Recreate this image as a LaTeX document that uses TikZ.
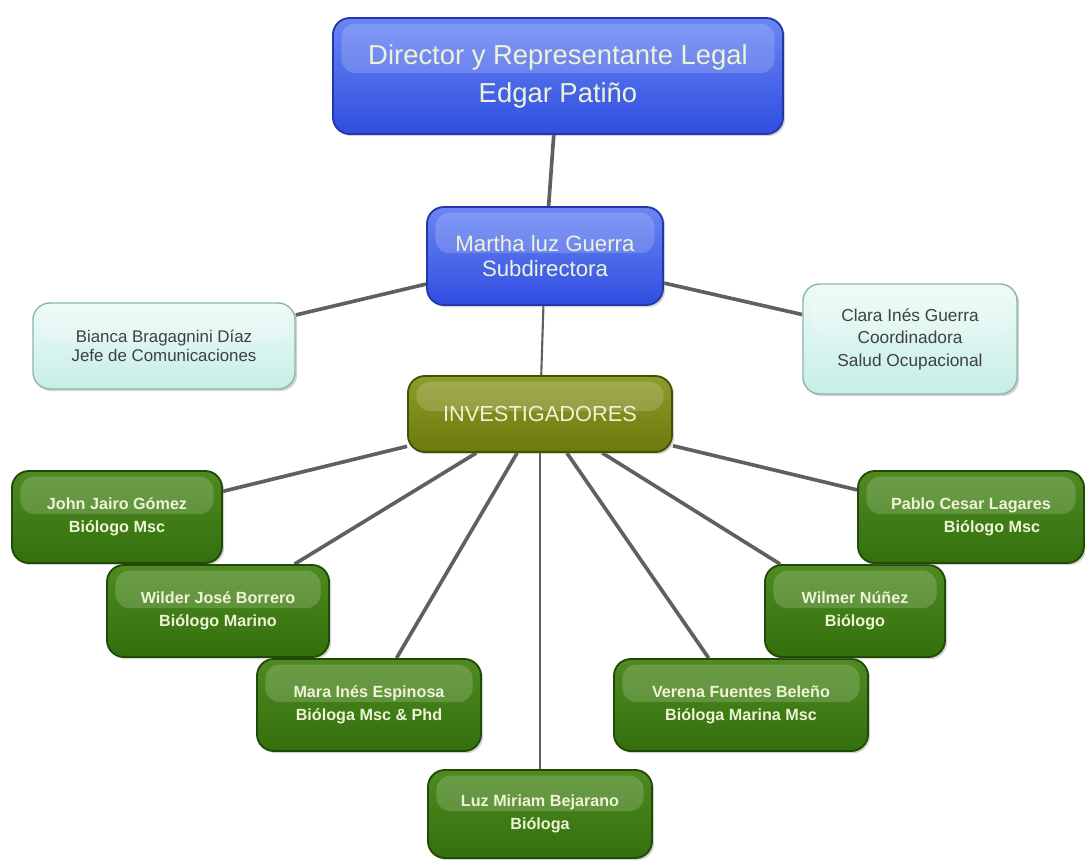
\documentclass[tikz,border=0pt]{standalone}
\usepackage{fontspec}
\setmainfont{Liberation Sans}
\usetikzlibrary{shadows,backgrounds}

\definecolor{bluetop}{HTML}{6A86F4}
\definecolor{bluebot}{HTML}{2F4EE0}
\definecolor{blueedge}{HTML}{2436A8}
\definecolor{greentop}{HTML}{4F8A22}
\definecolor{greenbot}{HTML}{33700C}
\definecolor{greenedge}{HTML}{214A06}
\definecolor{olivetop}{HTML}{8E9C2A}
\definecolor{olivebot}{HTML}{6C7A0E}
\definecolor{oliveedge}{HTML}{464F06}
\definecolor{aquatop}{HTML}{EEFBF8}
\definecolor{aquabot}{HTML}{C6EEE6}
\definecolor{aquaedge}{HTML}{8DB6AC}
\definecolor{paletext}{HTML}{EEF3D6}
\definecolor{linkgray}{HTML}{606060}

\tikzset{
  gloss/.style={path picture={
    \fill[white,opacity=0.17,rounded corners=10pt]
      ([xshift=6pt,yshift=-4pt]path picture bounding box.north west)
      rectangle ([xshift=-6pt,yshift=2pt]path picture bounding box.east);}},
  box/.style={rounded corners=12pt, line width=1.3pt, align=center, gloss,
    drop shadow={opacity=0.35,shadow xshift=1.5pt,shadow yshift=-1.5pt}},
  bluebox/.style={box, draw=blueedge, top color=bluetop, bottom color=bluebot, text=paletext},
  greenbox/.style={box, draw=greenedge, top color=greentop, bottom color=greenbot, text=paletext,
    font=\fontsize{11.5}{16}\selectfont\bfseries, minimum height=2.3cm},
  olivebox/.style={box, draw=oliveedge, top color=olivetop, bottom color=olivebot, text=paletext},
  aquabox/.style={box, line width=1pt, draw=aquaedge, top color=aquatop, bottom color=aquabot,
    text=black!75, font=\fontsize{12.3}{16}\selectfont},
  link/.style={draw=linkgray, line width=2.6pt},
  thinlink/.style={draw=linkgray, line width=1.5pt}
}

\begin{document}
\begin{tikzpicture}[x=0.025cm, y=-0.025cm]
\useasboundingbox (0,0) rectangle (1085,862);

% direccion
\node[bluebox, minimum width=11.25cm, minimum height=2.9cm, font=\fontsize{19.5}{27}\selectfont] (dir) at (558,76)
  {Director y Representante Legal\\Edgar Patiño};
\node[bluebox, minimum width=5.9cm, minimum height=2.45cm, font=\fontsize{15.8}{18}\selectfont] (sub) at (545,256)
  {Martha luz Guerra\\Subdirectora};
\node[aquabox, minimum width=6.55cm, minimum height=2.15cm, font=\fontsize{12}{14}\selectfont] (com) at (164,346)
  {Bianca Bragagnini Díaz\\Jefe de Comunicaciones};
\node[aquabox, minimum width=5.35cm, minimum height=2.75cm] (coord) at (910,339)
  {Clara Inés Guerra\\Coordinadora\\Salud Ocupacional};
\node[olivebox, minimum width=6.6cm, minimum height=1.9cm, font=\fontsize{15.5}{18}\selectfont] (inv) at (540,414)
  {INVESTIGADORES};

% investigadores
\node[greenbox, minimum width=5.25cm] (john) at (117,517) {John Jairo Gómez\\Biólogo Msc};
\node[greenbox, minimum width=5.55cm] (wilder) at (218,611) {Wilder José Borrero\\Biólogo Marino};
\node[greenbox, minimum width=5.6cm] (mara) at (369,705) {Mara Inés Espinosa\\Bióloga Msc \& Phd};
\node[greenbox, minimum width=5.6cm, minimum height=2.2cm] (luz) at (540,814) {Luz Miriam Bejarano\\Bióloga};
\node[greenbox, minimum width=6.35cm] (verena) at (741,705) {Verena Fuentes Beleño\\Bióloga Marina Msc};
\node[greenbox, minimum width=4.5cm] (wilmer) at (855,611) {Wilmer Núñez\\Biólogo};
\node[greenbox, minimum width=5.65cm] (pablo) at (971,517) {Pablo Cesar Lagares\\\hspace*{2.6em}Biólogo Msc};

\begin{scope}[on background layer]
\draw [link] (dir) -- (sub);
\draw [link] (sub) -- (com);
\draw [link] (sub) -- (coord);
\draw [thinlink] (sub) -- (inv);
\draw [link] (inv) -- (john);
\draw [link] (inv) -- (wilder);
\draw [link] (inv) -- (mara);
\draw [thinlink] (inv) -- (luz);
\draw [link] (inv) -- (verena);
\draw [link] (inv) -- (wilmer);
\draw [link] (inv) -- (pablo);
\end{scope}

\end{tikzpicture}
\end{document}
